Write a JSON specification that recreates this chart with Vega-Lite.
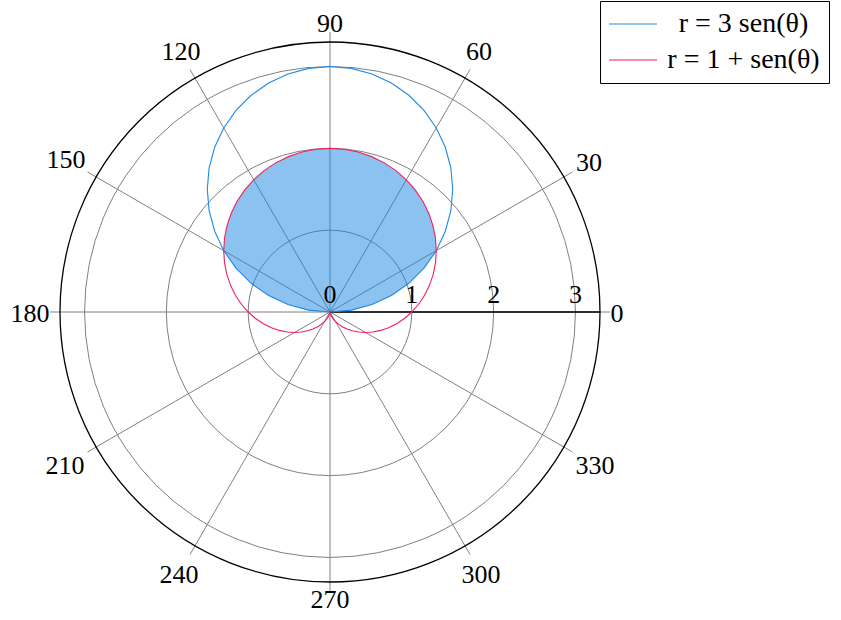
{
  "$schema": "https://vega.github.io/schema/vega-lite/v6.json",
  "width": 841,
  "height": 620,
  "autosize": "none",
  "padding": 0,
  "background": "white",
  "config": {"view": {"stroke": null}},
  "datasets": {
    "gridCircles": [{"r": 1}, {"r": 2}, {"r": 3}],
    "outerCircle": [{"r": 3.3}],
    "spokes": [
      {"a": 0, "x0": 0, "y0": 0, "x1": 3.4222, "y1": 0},
      {"a": 30, "x0": 0, "y0": 0, "x1": 2.9637, "y1": 1.7111},
      {"a": 60, "x0": 0, "y0": 0, "x1": 1.7111, "y1": 2.9637},
      {"a": 90, "x0": 0, "y0": 0, "x1": 0, "y1": 3.4222},
      {"a": 120, "x0": 0, "y0": 0, "x1": -1.7111, "y1": 2.9637},
      {"a": 150, "x0": 0, "y0": 0, "x1": -2.9637, "y1": 1.7111},
      {"a": 180, "x0": 0, "y0": 0, "x1": -3.4222, "y1": 0},
      {"a": 210, "x0": 0, "y0": 0, "x1": -2.9637, "y1": -1.7111},
      {"a": 240, "x0": 0, "y0": 0, "x1": -1.7111, "y1": -2.9637},
      {"a": 270, "x0": 0, "y0": 0, "x1": 0, "y1": -3.4222},
      {"a": 300, "x0": 0, "y0": 0, "x1": 1.7111, "y1": -2.9637},
      {"a": 330, "x0": 0, "y0": 0, "x1": 2.9637, "y1": -1.7111}
    ],
    "axisLine": [{"x0": 0, "y0": 0, "x1": 3.3, "y1": 0}],
    "fill": [
      {"y": 0, "xr": 0, "xl": 0},
      {"y": 0.0228, "xr": 0.2605, "xl": -0.2605},
      {"y": 0.0905, "xr": 0.5130, "xl": -0.5130},
      {"y": 0.2010, "xr": 0.75, "xl": -0.75},
      {"y": 0.3509, "xr": 0.9642, "xl": -0.9642},
      {"y": 0.5358, "xr": 1.1491, "xl": -1.1491},
      {"y": 0.75, "xr": 1.2990, "xl": -1.2990},
      {"y": 0.9026, "xr": 1.2890, "xl": -1.2890},
      {"y": 1.0560, "xr": 1.2584, "xl": -1.2584},
      {"y": 1.2071, "xr": 1.2071, "xl": -1.2071},
      {"y": 1.3529, "xr": 1.1352, "xl": -1.1352},
      {"y": 1.4902, "xr": 1.0434, "xl": -1.0434},
      {"y": 1.6160, "xr": 0.9330, "xl": -0.9330},
      {"y": 1.7277, "xr": 0.8056, "xl": -0.8056},
      {"y": 1.8227, "xr": 0.6634, "xl": -0.6634},
      {"y": 1.8989, "xr": 0.5088, "xl": -0.5088},
      {"y": 1.9547, "xr": 0.3447, "xl": -0.3447},
      {"y": 1.9886, "xr": 0.1740, "xl": -0.1740},
      {"y": 2, "xr": 0, "xl": 0}
    ],
    "curves": [
      {"series": "r = 3 sen(θ)", "t": 0, "x": 0, "y": 0},
      {"series": "r = 3 sen(θ)", "t": 5, "x": 0.2605, "y": 0.0228},
      {"series": "r = 3 sen(θ)", "t": 10, "x": 0.5130, "y": 0.0905},
      {"series": "r = 3 sen(θ)", "t": 15, "x": 0.75, "y": 0.2010},
      {"series": "r = 3 sen(θ)", "t": 20, "x": 0.9642, "y": 0.3509},
      {"series": "r = 3 sen(θ)", "t": 25, "x": 1.1491, "y": 0.5358},
      {"series": "r = 3 sen(θ)", "t": 30, "x": 1.2990, "y": 0.75},
      {"series": "r = 3 sen(θ)", "t": 35, "x": 1.4095, "y": 0.9870},
      {"series": "r = 3 sen(θ)", "t": 40, "x": 1.4772, "y": 1.2395},
      {"series": "r = 3 sen(θ)", "t": 45, "x": 1.5, "y": 1.5},
      {"series": "r = 3 sen(θ)", "t": 50, "x": 1.4772, "y": 1.7605},
      {"series": "r = 3 sen(θ)", "t": 55, "x": 1.4095, "y": 2.0130},
      {"series": "r = 3 sen(θ)", "t": 60, "x": 1.2990, "y": 2.25},
      {"series": "r = 3 sen(θ)", "t": 65, "x": 1.1491, "y": 2.4642},
      {"series": "r = 3 sen(θ)", "t": 70, "x": 0.9642, "y": 2.6491},
      {"series": "r = 3 sen(θ)", "t": 75, "x": 0.75, "y": 2.7990},
      {"series": "r = 3 sen(θ)", "t": 80, "x": 0.5130, "y": 2.9095},
      {"series": "r = 3 sen(θ)", "t": 85, "x": 0.2605, "y": 2.9772},
      {"series": "r = 3 sen(θ)", "t": 90, "x": 0, "y": 3},
      {"series": "r = 3 sen(θ)", "t": 95, "x": -0.2605, "y": 2.9772},
      {"series": "r = 3 sen(θ)", "t": 100, "x": -0.5130, "y": 2.9095},
      {"series": "r = 3 sen(θ)", "t": 105, "x": -0.75, "y": 2.7990},
      {"series": "r = 3 sen(θ)", "t": 110, "x": -0.9642, "y": 2.6491},
      {"series": "r = 3 sen(θ)", "t": 115, "x": -1.1491, "y": 2.4642},
      {"series": "r = 3 sen(θ)", "t": 120, "x": -1.2990, "y": 2.25},
      {"series": "r = 3 sen(θ)", "t": 125, "x": -1.4095, "y": 2.0130},
      {"series": "r = 3 sen(θ)", "t": 130, "x": -1.4772, "y": 1.7605},
      {"series": "r = 3 sen(θ)", "t": 135, "x": -1.5, "y": 1.5},
      {"series": "r = 3 sen(θ)", "t": 140, "x": -1.4772, "y": 1.2395},
      {"series": "r = 3 sen(θ)", "t": 145, "x": -1.4095, "y": 0.9870},
      {"series": "r = 3 sen(θ)", "t": 150, "x": -1.2990, "y": 0.75},
      {"series": "r = 3 sen(θ)", "t": 155, "x": -1.1491, "y": 0.5358},
      {"series": "r = 3 sen(θ)", "t": 160, "x": -0.9642, "y": 0.3509},
      {"series": "r = 3 sen(θ)", "t": 165, "x": -0.75, "y": 0.2010},
      {"series": "r = 3 sen(θ)", "t": 170, "x": -0.5130, "y": 0.0905},
      {"series": "r = 3 sen(θ)", "t": 175, "x": -0.2605, "y": 0.0228},
      {"series": "r = 3 sen(θ)", "t": 180, "x": 0, "y": 0},
      {"series": "r = 1 + sen(θ)", "t": 0, "x": 1, "y": 0},
      {"series": "r = 1 + sen(θ)", "t": 5, "x": 1.0830, "y": 0.0948},
      {"series": "r = 1 + sen(θ)", "t": 10, "x": 1.1558, "y": 0.2038},
      {"series": "r = 1 + sen(θ)", "t": 15, "x": 1.2159, "y": 0.3258},
      {"series": "r = 1 + sen(θ)", "t": 20, "x": 1.2611, "y": 0.4590},
      {"series": "r = 1 + sen(θ)", "t": 25, "x": 1.2893, "y": 0.6012},
      {"series": "r = 1 + sen(θ)", "t": 30, "x": 1.2990, "y": 0.75},
      {"series": "r = 1 + sen(θ)", "t": 35, "x": 1.2890, "y": 0.9026},
      {"series": "r = 1 + sen(θ)", "t": 40, "x": 1.2584, "y": 1.0560},
      {"series": "r = 1 + sen(θ)", "t": 45, "x": 1.2071, "y": 1.2071},
      {"series": "r = 1 + sen(θ)", "t": 50, "x": 1.1352, "y": 1.3529},
      {"series": "r = 1 + sen(θ)", "t": 55, "x": 1.0434, "y": 1.4902},
      {"series": "r = 1 + sen(θ)", "t": 60, "x": 0.9330, "y": 1.6160},
      {"series": "r = 1 + sen(θ)", "t": 65, "x": 0.8056, "y": 1.7277},
      {"series": "r = 1 + sen(θ)", "t": 70, "x": 0.6634, "y": 1.8227},
      {"series": "r = 1 + sen(θ)", "t": 75, "x": 0.5088, "y": 1.8989},
      {"series": "r = 1 + sen(θ)", "t": 80, "x": 0.3447, "y": 1.9547},
      {"series": "r = 1 + sen(θ)", "t": 85, "x": 0.1740, "y": 1.9886},
      {"series": "r = 1 + sen(θ)", "t": 90, "x": 0, "y": 2},
      {"series": "r = 1 + sen(θ)", "t": 95, "x": -0.1740, "y": 1.9886},
      {"series": "r = 1 + sen(θ)", "t": 100, "x": -0.3447, "y": 1.9547},
      {"series": "r = 1 + sen(θ)", "t": 105, "x": -0.5088, "y": 1.8989},
      {"series": "r = 1 + sen(θ)", "t": 110, "x": -0.6634, "y": 1.8227},
      {"series": "r = 1 + sen(θ)", "t": 115, "x": -0.8056, "y": 1.7277},
      {"series": "r = 1 + sen(θ)", "t": 120, "x": -0.9330, "y": 1.6160},
      {"series": "r = 1 + sen(θ)", "t": 125, "x": -1.0434, "y": 1.4902},
      {"series": "r = 1 + sen(θ)", "t": 130, "x": -1.1352, "y": 1.3529},
      {"series": "r = 1 + sen(θ)", "t": 135, "x": -1.2071, "y": 1.2071},
      {"series": "r = 1 + sen(θ)", "t": 140, "x": -1.2584, "y": 1.0560},
      {"series": "r = 1 + sen(θ)", "t": 145, "x": -1.2890, "y": 0.9026},
      {"series": "r = 1 + sen(θ)", "t": 150, "x": -1.2990, "y": 0.75},
      {"series": "r = 1 + sen(θ)", "t": 155, "x": -1.2893, "y": 0.6012},
      {"series": "r = 1 + sen(θ)", "t": 160, "x": -1.2611, "y": 0.4590},
      {"series": "r = 1 + sen(θ)", "t": 165, "x": -1.2159, "y": 0.3258},
      {"series": "r = 1 + sen(θ)", "t": 170, "x": -1.1558, "y": 0.2038},
      {"series": "r = 1 + sen(θ)", "t": 175, "x": -1.0830, "y": 0.0948},
      {"series": "r = 1 + sen(θ)", "t": 180, "x": -1, "y": 0},
      {"series": "r = 1 + sen(θ)", "t": 185, "x": -0.9094, "y": -0.0796},
      {"series": "r = 1 + sen(θ)", "t": 190, "x": -0.8138, "y": -0.1435},
      {"series": "r = 1 + sen(θ)", "t": 195, "x": -0.7159, "y": -0.1918},
      {"series": "r = 1 + sen(θ)", "t": 200, "x": -0.6183, "y": -0.2250},
      {"series": "r = 1 + sen(θ)", "t": 205, "x": -0.5233, "y": -0.2440},
      {"series": "r = 1 + sen(θ)", "t": 210, "x": -0.4330, "y": -0.25},
      {"series": "r = 1 + sen(θ)", "t": 215, "x": -0.3493, "y": -0.2446},
      {"series": "r = 1 + sen(θ)", "t": 220, "x": -0.2736, "y": -0.2296},
      {"series": "r = 1 + sen(θ)", "t": 225, "x": -0.2071, "y": -0.2071},
      {"series": "r = 1 + sen(θ)", "t": 230, "x": -0.1504, "y": -0.1792},
      {"series": "r = 1 + sen(θ)", "t": 235, "x": -0.1037, "y": -0.1481},
      {"series": "r = 1 + sen(θ)", "t": 240, "x": -0.0670, "y": -0.1160},
      {"series": "r = 1 + sen(θ)", "t": 245, "x": -0.0396, "y": -0.0849},
      {"series": "r = 1 + sen(θ)", "t": 250, "x": -0.0206, "y": -0.0567},
      {"series": "r = 1 + sen(θ)", "t": 255, "x": -0.0088, "y": -0.0329},
      {"series": "r = 1 + sen(θ)", "t": 260, "x": -0.0026, "y": -0.0150},
      {"series": "r = 1 + sen(θ)", "t": 265, "x": -0.0003, "y": -0.0038},
      {"series": "r = 1 + sen(θ)", "t": 270, "x": 0, "y": 0},
      {"series": "r = 1 + sen(θ)", "t": 275, "x": 0.0003, "y": -0.0038},
      {"series": "r = 1 + sen(θ)", "t": 280, "x": 0.0026, "y": -0.0150},
      {"series": "r = 1 + sen(θ)", "t": 285, "x": 0.0088, "y": -0.0329},
      {"series": "r = 1 + sen(θ)", "t": 290, "x": 0.0206, "y": -0.0567},
      {"series": "r = 1 + sen(θ)", "t": 295, "x": 0.0396, "y": -0.0849},
      {"series": "r = 1 + sen(θ)", "t": 300, "x": 0.0670, "y": -0.1160},
      {"series": "r = 1 + sen(θ)", "t": 305, "x": 0.1037, "y": -0.1481},
      {"series": "r = 1 + sen(θ)", "t": 310, "x": 0.1504, "y": -0.1792},
      {"series": "r = 1 + sen(θ)", "t": 315, "x": 0.2071, "y": -0.2071},
      {"series": "r = 1 + sen(θ)", "t": 320, "x": 0.2736, "y": -0.2296},
      {"series": "r = 1 + sen(θ)", "t": 325, "x": 0.3493, "y": -0.2446},
      {"series": "r = 1 + sen(θ)", "t": 330, "x": 0.4330, "y": -0.25},
      {"series": "r = 1 + sen(θ)", "t": 335, "x": 0.5233, "y": -0.2440},
      {"series": "r = 1 + sen(θ)", "t": 340, "x": 0.6183, "y": -0.2250},
      {"series": "r = 1 + sen(θ)", "t": 345, "x": 0.7159, "y": -0.1918},
      {"series": "r = 1 + sen(θ)", "t": 350, "x": 0.8138, "y": -0.1435},
      {"series": "r = 1 + sen(θ)", "t": 355, "x": 0.9094, "y": -0.0796},
      {"series": "r = 1 + sen(θ)", "t": 360, "x": 1, "y": 0}
    ],
    "angleLabels": [
      {"lab": "0", "x": 3.5078, "y": -0.1241},
      {"lab": "30", "x": 3.1656, "y": 1.7215},
      {"lab": "60", "x": 1.8211, "y": 3.0782},
      {"lab": "90", "x": 0, "y": 3.4265},
      {"lab": "120", "x": -1.8211, "y": 3.0782},
      {"lab": "150", "x": -3.2267, "y": 1.7582},
      {"lab": "180", "x": -3.6667, "y": -0.1179},
      {"lab": "210", "x": -3.2389, "y": -1.9818},
      {"lab": "240", "x": -1.8456, "y": -3.3141},
      {"lab": "270", "x": 0, "y": -3.6196},
      {"lab": "300", "x": 1.8456, "y": -3.3141},
      {"lab": "330", "x": 3.2389, "y": -1.9818}
    ],
    "radialLabels": [
      {"lab": "0", "r": 0, "y": 0},
      {"lab": "1", "r": 1, "y": 0},
      {"lab": "2", "r": 2, "y": 0},
      {"lab": "3", "r": 3, "y": 0}
    ]
  },
  "layer": [
    {
      "data": {"name": "gridCircles"},
      "mark": {"type": "point", "shape": "circle", "filled": false, "stroke": "#808080", "strokeWidth": 1, "opacity": 1},
      "encoding": {
        "x": {"datum": 0, "type": "quantitative", "scale": {"domain": [-4.0333, 6.2456], "nice": false, "zero": false}, "axis": null},
        "y": {"datum": 0, "type": "quantitative", "scale": {"domain": [-3.7644, 3.8133], "nice": false, "zero": false}, "axis": null},
        "size": {"field": "r", "type": "quantitative", "scale": {"type": "pow", "exponent": 2, "domain": [0, 3.3], "range": [0, 291600]}, "legend": null}
      }
    },
    {
      "data": {"name": "spokes"},
      "mark": {"type": "rule", "stroke": "#808080", "strokeWidth": 1},
      "encoding": {
        "x": {"field": "x0", "type": "quantitative", "scale": {"domain": [-4.0333, 6.2456], "nice": false, "zero": false}, "axis": null},
        "y": {"field": "y0", "type": "quantitative", "scale": {"domain": [-3.7644, 3.8133], "nice": false, "zero": false}, "axis": null},
        "x2": {"field": "x1"},
        "y2": {"field": "y1"}
      }
    },
    {
      "data": {"name": "axisLine"},
      "mark": {"type": "rule", "stroke": "black", "strokeWidth": 1.6},
      "encoding": {
        "x": {"field": "x0", "type": "quantitative", "scale": {"domain": [-4.0333, 6.2456], "nice": false, "zero": false}, "axis": null},
        "y": {"field": "y0", "type": "quantitative", "scale": {"domain": [-3.7644, 3.8133], "nice": false, "zero": false}, "axis": null},
        "x2": {"field": "x1"},
        "y2": {"field": "y1"}
      }
    },
    {
      "data": {"name": "outerCircle"},
      "mark": {"type": "point", "shape": "circle", "filled": false, "stroke": "black", "strokeWidth": 1.3, "opacity": 1},
      "encoding": {
        "x": {"datum": 0, "type": "quantitative", "scale": {"domain": [-4.0333, 6.2456], "nice": false, "zero": false}, "axis": null},
        "y": {"datum": 0, "type": "quantitative", "scale": {"domain": [-3.7644, 3.8133], "nice": false, "zero": false}, "axis": null},
        "size": {"field": "r", "type": "quantitative", "scale": {"type": "pow", "exponent": 2, "domain": [0, 3.3], "range": [0, 291600]}, "legend": null}
      }
    },
    {
      "data": {"name": "fill"},
      "mark": {"type": "area", "orient": "horizontal", "fill": "#1a86e2", "fillOpacity": 0.5, "stroke": null},
      "encoding": {
        "y": {"field": "y", "type": "quantitative", "scale": {"domain": [-3.7644, 3.8133], "nice": false, "zero": false}, "axis": null},
        "x": {"field": "xr", "type": "quantitative", "scale": {"domain": [-4.0333, 6.2456], "nice": false, "zero": false}, "axis": null},
        "x2": {"field": "xl"}
      }
    },
    {
      "data": {"name": "curves"},
      "mark": {"type": "line", "strokeWidth": 1.1},
      "encoding": {
        "x": {"field": "x", "type": "quantitative", "scale": {"domain": [-4.0333, 6.2456], "nice": false, "zero": false}, "axis": null},
        "y": {"field": "y", "type": "quantitative", "scale": {"domain": [-3.7644, 3.8133], "nice": false, "zero": false}, "axis": null},
        "order": {"field": "t", "type": "quantitative"},
        "color": {
          "field": "series",
          "type": "nominal",
          "scale": {"domain": ["r = 3 sen(θ)", "r = 1 + sen(θ)"], "range": ["#1e88e5", "#f0205a"]},
          "legend": {
            "orient": "none",
            "legendX": 600,
            "legendY": 1,
            "title": null,
            "symbolType": "M-1.037,0L2.519,0",
            "symbolSize": 729,
            "symbolStrokeWidth": 1.1,
            "labelFont": "Liberation Serif",
            "labelFontSize": 28,
            "labelColor": "black",
            "labelAlign": "center",
            "labelOffset": 106,
            "labelLimit": 0,
            "padding": 8.5,
            "rowPadding": 7,
            "strokeColor": "black",
            "fillColor": "white"
          }
        }
      }
    },
    {
      "data": {"name": "angleLabels"},
      "mark": {"type": "text", "font": "Liberation Serif", "fontSize": 26, "align": "center", "baseline": "alphabetic", "color": "black"},
      "encoding": {
        "x": {"field": "x", "type": "quantitative", "scale": {"domain": [-4.0333, 6.2456], "nice": false, "zero": false}, "axis": null},
        "y": {"field": "y", "type": "quantitative", "scale": {"domain": [-3.7644, 3.8133], "nice": false, "zero": false}, "axis": null},
        "text": {"field": "lab"}
      }
    },
    {
      "data": {"name": "radialLabels"},
      "mark": {"type": "text", "font": "Liberation Serif", "fontSize": 26, "align": "center", "baseline": "alphabetic", "dy": -8.7, "color": "black"},
      "encoding": {
        "x": {"field": "r", "type": "quantitative", "scale": {"domain": [-4.0333, 6.2456], "nice": false, "zero": false}, "axis": null},
        "y": {"field": "y", "type": "quantitative", "scale": {"domain": [-3.7644, 3.8133], "nice": false, "zero": false}, "axis": null},
        "text": {"field": "lab"}
      }
    }
  ]
}
